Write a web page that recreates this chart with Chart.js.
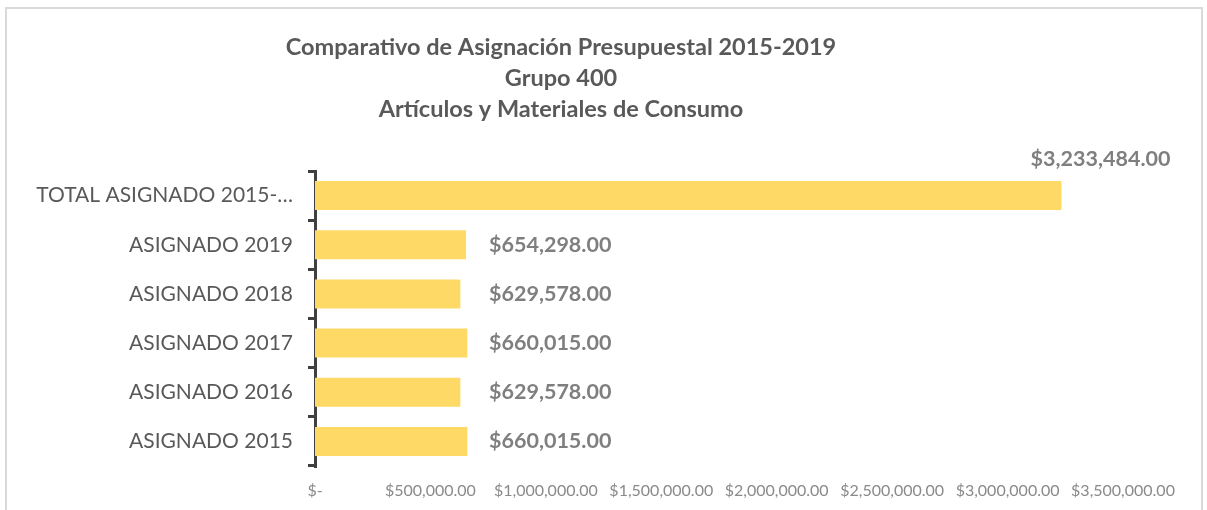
<!DOCTYPE html>
<html>
<head>
<meta charset="utf-8">
<script src="https://cdn.jsdelivr.net/npm/chart.js@4.4.1/dist/chart.umd.min.js"></script>
<style>
  html, body { margin: 0; padding: 0; background: #ffffff; }
  #wrap { position: relative; width: 1207px; height: 510px; }
  #frame { position: absolute; left: 5px; top: 7px; width: 1198px; height: 520px; border: 2px solid #d9d9d9; box-sizing: border-box; pointer-events: none; }
  canvas { position: absolute; left: 0; top: 0; }
</style>
</head>
<body>
<div id="wrap">
  <canvas id="c" width="1207" height="510"></canvas>
  <div id="frame"></div>
</div>
<script>
const titleLines = [
  "Comparativo de Asignación Presupuestal 2015-2019",
  "Grupo 400",
  "Artículos y Materiales de Consumo"
];
const categories = [
  "TOTAL ASIGNADO 2015-…",
  "ASIGNADO 2019",
  "ASIGNADO 2018",
  "ASIGNADO 2017",
  "ASIGNADO 2016",
  "ASIGNADO 2015"
];
const values = [3233484, 654298, 629578, 660015, 629578, 660015];
const xTickValues = [0, 500000, 1000000, 1500000, 2000000, 2500000, 3000000, 3500000];

const FONT = "Lato, 'Open Sans', sans-serif";

function money(v) {
  if (v === 0) return "$-";
  return "$" + v.toLocaleString("en-US", { minimumFractionDigits: 2, maximumFractionDigits: 2 });
}

const titlePlugin = {
  id: "customTitle",
  afterDraw(chart) {
    const ctx = chart.ctx;
    ctx.save();
    ctx.fillStyle = "#595959";
    ctx.font = "bold 23.5px " + FONT;
    ctx.textAlign = "center";
    ctx.textBaseline = "middle";
    titleLines.forEach((t, i) => ctx.fillText(t, 561, 47 + i * 31));
    ctx.restore();
  }
};

const labelPlugin = {
  id: "barLabels",
  afterDatasetsDraw(chart) {
    const ctx = chart.ctx;
    const meta = chart.getDatasetMeta(0);
    ctx.save();
    ctx.fillStyle = "#7f7f7f";
    ctx.font = "bold 21.5px " + FONT;
    ctx.textBaseline = "middle";
    meta.data.forEach((bar, i) => {
      const txt = money(values[i]);
      if (i === 0) {
        ctx.textAlign = "right";
        ctx.fillText(txt, bar.x + 109, bar.y - 37);
      } else {
        ctx.textAlign = "left";
        ctx.fillText(txt, 489, bar.y);
      }
    });
    ctx.restore();
  }
};

new Chart(document.getElementById("c"), {
  type: "bar",
  data: {
    labels: categories,
    datasets: [{
      data: values,
      backgroundColor: "#ffd966",
      borderWidth: 0,
      barPercentage: 0.59,
      categoryPercentage: 1.0
    }]
  },
  options: {
    indexAxis: "y",
    responsive: false,
    animation: false,
    events: [],
    layout: { padding: { top: 171, right: 84, bottom: 0, left: 0 } },
    plugins: {
      legend: { display: false },
      title: { display: false },
      tooltip: { enabled: false }
    },
    scales: {
      x: {
        min: 0,
        max: 3500000,
        afterBuildTicks(scale) { scale.ticks = xTickValues.map(v => ({ value: v })); },
        afterFit(scale) { scale.height = 44; },
        grid: { display: false },
        border: { display: false },
        ticks: {
          color: "#8a8a8a",
          font: { family: FONT, size: 16 },
          padding: 7,
          maxRotation: 0,
          autoSkip: false,
          callback: (v) => money(v)
        }
      },
      y: {
        afterFit(scale) { scale.width = 315; },
        grid: {
          display: true,
          drawOnChartArea: false,
          drawTicks: true,
          tickLength: 7,
          color: "#404040",
          lineWidth: 3,
          offset: true
        },
        border: { display: true, color: "#404040", width: 3 },
        ticks: {
          color: "#595959",
          font: { family: FONT, size: 21 },
          padding: 15,
          autoSkip: false
        }
      }
    }
  },
  plugins: [titlePlugin, labelPlugin]
});
</script>
</body>
</html>
